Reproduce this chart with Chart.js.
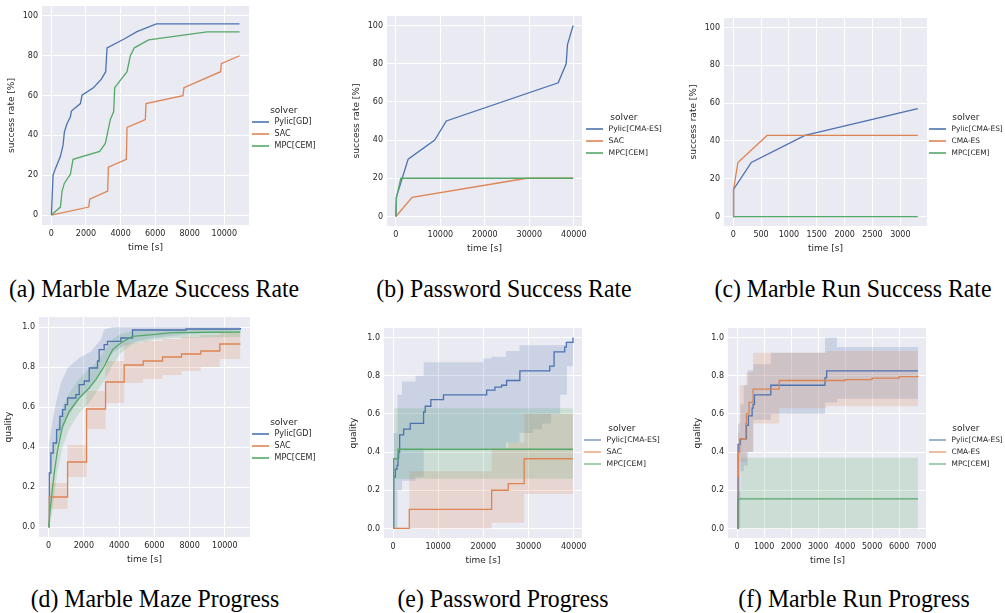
<!DOCTYPE html>
<html>
<head>
<meta charset="utf-8">
<script src="https://cdn.jsdelivr.net/npm/chart.js@4.4.1/dist/chart.umd.min.js"></script>
<style>
body { margin:0; background:#fff; width:1005px; height:613px; overflow:hidden; position:relative; }
canvas { position:absolute; }
.legend { position:absolute; font-family:"DejaVu Sans"; color:#262626; }
.legend .ttl { font-size:9px; line-height:12px; height:12px; text-align:center; }
.legend .row { position:relative; line-height:12px; height:12px; white-space:nowrap; padding-left:22.5px; }
.legend .ln { position:absolute; left:0; top:5px; width:16.5px; height:2px; }
.cap { position:absolute; font-family:"Liberation Serif"; font-size:25px; line-height:25px; color:#000; white-space:nowrap; transform:translateX(-50%) scaleX(0.95); }
</style>
</head>
<body>
<canvas id="ca"></canvas>
<canvas id="cb"></canvas>
<canvas id="cc"></canvas>
<canvas id="cd"></canvas>
<canvas id="ce"></canvas>
<canvas id="cf"></canvas>
<script>
// tick values / labels
const rateTicks = [0, 20, 40, 60, 80, 100];
const rateLabels = ['0', '20', '40', '60', '80', '100'];
const qualTicks = [0, 0.2, 0.4, 0.6, 0.8, 1.0];
const qualLabels = ['0.0', '0.2', '0.4', '0.6', '0.8', '1.0'];
const mazeTicks = [0, 2000, 4000, 6000, 8000, 10000];
const passTicks = [0, 10000, 20000, 30000, 40000];
const runTicksC = [0, 500, 1000, 1500, 2000, 2500, 3000];
const runTicksF = [0, 1000, 2000, 3000, 4000, 5000, 6000, 7000];

// (a) Marble Maze success rate
const aPylicX = [0, 96, 231, 520, 674, 751, 905, 1098, 1156, 1676, 1772, 2447, 2890, 3141, 3218, 4181, 4952, 6069, 10886];
const aPylicY = [0, 20, 23.3, 29.5, 35.1, 41.8, 46, 49.3, 52.2, 56, 60.2, 64.1, 68.3, 72, 84, 88.3, 92.1, 96, 96];
const aSacX = [0, 2158, 2216, 3256, 3295, 4335, 4374, 5433, 5472, 7611, 7669, 9788, 9827, 10886];
const aSacY = [0, 4, 8, 12, 24, 28, 44, 48, 56, 60, 64, 72, 76, 80];
const aMpcX = [0, 520, 617, 751, 1098, 1252, 2794, 3121, 3410, 3603, 3661, 4374, 4566, 4798, 5626, 8998, 10886];
const aMpcY = [0, 4, 12, 16, 20.5, 28, 32, 36, 48, 52, 64, 72, 80, 84, 88, 92, 92];

// (b) Password success rate
const bPylicX = [0, 100, 2761, 8731, 11343, 36493, 38284, 38582, 39851];
const bPylicY = [0, 10, 30, 40, 50, 70, 80, 90, 100];
const bSacX = [0, 3657, 29403, 39851];
const bSacY = [0, 10, 20, 20];
const bMpcX = [0, 150, 1119, 39851];
const bMpcY = [0, 10, 20, 20];

// (c) Marble Run success rate
const cPylicX = [0, 6, 325, 1287, 3313];
const cPylicY = [0, 14.3, 28.6, 42.9, 57.1];
const cCmaX = [0, 6, 84, 607, 3313];
const cCmaY = [0, 14.3, 28.6, 42.9, 42.9];
const cMpcX = [0, 3313];
const cMpcY = [0, 0];

// (d) Marble Maze progress
const dPylicX = [0, 40, 130, 262, 453, 640, 794, 944, 1077, 1549, 1737, 2022, 2305, 2778, 2871, 3155, 3345, 4100, 4763, 7800, 10886];
const dPylicY = [0, 0.27, 0.37, 0.42, 0.487, 0.553, 0.587, 0.612, 0.645, 0.662, 0.712, 0.73, 0.795, 0.83, 0.887, 0.912, 0.928, 0.945, 0.985, 0.99, 0.995];
const dPylicBandX = [0, 40, 226, 414, 697, 1077, 1737, 2400, 2967, 3155, 3630, 4197, 4952, 5900, 8000, 10886];
const dPylicLo = [0, 0.187, 0.32, 0.40, 0.47, 0.55, 0.637, 0.70, 0.78, 0.82, 0.87, 0.903, 0.928, 0.945, 0.965, 0.985];
const dPylicHi = [0, 0.42, 0.53, 0.62, 0.72, 0.795, 0.845, 0.878, 0.937, 0.987, 1.0, 1.0, 1.0, 1.0, 1.0, 1.0];
const dSacX = [0, 40, 1078, 2155, 3233, 4291, 5369, 6465, 7543, 8639, 9716, 10886];
const dSacY = [0, 0.15, 0.325, 0.59, 0.725, 0.81, 0.83, 0.85, 0.865, 0.88, 0.915, 0.915];
const dSacLo = [0, 0.09, 0.25, 0.49, 0.62, 0.72, 0.74, 0.76, 0.78, 0.80, 0.84, 0.84];
const dSacHi = [0, 0.22, 0.41, 0.68, 0.83, 0.92, 0.93, 0.94, 0.95, 0.96, 0.97, 0.97];
const dMpcX = [0, 130, 319, 510, 794, 1170, 1737, 2305, 2684, 3155, 3630, 4100, 4763, 5900, 7000, 10886];
const dMpcY = [0, 0.12, 0.27, 0.387, 0.503, 0.578, 0.645, 0.695, 0.737, 0.803, 0.887, 0.92, 0.953, 0.962, 0.972, 0.975];
const dMpcLo = [0, 0.03, 0.15, 0.28, 0.40, 0.49, 0.57, 0.62, 0.67, 0.73, 0.81, 0.87, 0.915, 0.935, 0.945, 0.95];
const dMpcHi = [0, 0.24, 0.40, 0.50, 0.60, 0.67, 0.74, 0.79, 0.82, 0.88, 0.94, 0.965, 0.98, 0.99, 0.99, 0.99];

// (e) Password progress
const ePylicX = [0, 150, 515, 882, 1103, 1250, 1471, 2353, 3824, 6765, 7132, 8382, 11176, 20735, 22574, 24044, 25147, 28088, 34706, 35662, 38015, 38382, 39851];
const ePylicY = [0, 0.27, 0.31, 0.33, 0.37, 0.40, 0.49, 0.52, 0.55, 0.61, 0.64, 0.675, 0.70, 0.725, 0.74, 0.75, 0.775, 0.825, 0.85, 0.925, 0.95, 0.975, 1.0];
const ePylicBandX = [0, 150, 1000, 2000, 5000, 6800, 15000, 20000, 21800, 25000, 28000, 31000, 33000, 35000, 37000, 38500, 39851];
const ePylicLo = [0, 0, 0.2, 0.25, 0.27, 0.42, 0.42, 0.42, 0.42, 0.45, 0.5, 0.52, 0.55, 0.6, 0.7, 0.85, 1.0];
const ePylicHi = [0, 0.5, 0.7, 0.77, 0.80, 0.87, 0.87, 0.89, 0.9, 0.93, 0.96, 0.96, 0.96, 0.96, 0.96, 0.98, 1.0];
const eSacX = [0, 3600, 21838, 25515, 29044, 39851];
const eSacY = [0, 0.10, 0.20, 0.235, 0.365, 0.365];
const eSacLo = [0, 0, 0.03, 0.03, 0.18, 0.18];
const eSacHi = [0, 0.30, 0.42, 0.45, 0.60, 0.58];
const eMpcX = [0, 150, 1100, 39851];
const eMpcY = [0, 0.365, 0.415, 0.415];
const eMpcBandX = [0, 150, 300, 39851];
const eMpcLo = [0, 0, 0.26, 0.26];
const eMpcHi = [0, 0.5, 0.63, 0.63];

// (f) Marble Run progress
const fPylicX = [0, 37, 124, 347, 421, 557, 594, 644, 1250, 3255, 3317, 6696];
const fPylicY = [0, 0.44, 0.47, 0.54, 0.59, 0.63, 0.65, 0.70, 0.75, 0.79, 0.825, 0.825];
const fPylicBandX = [0, 37, 124, 250, 400, 600, 1250, 3255, 3550, 3700, 6696];
const fPylicLo = [0, 0, 0.3, 0.33, 0.40, 0.57, 0.60, 0.66, 0.66, 0.68, 0.68];
const fPylicHi = [0, 0.55, 0.65, 0.75, 0.83, 0.86, 0.92, 1.0, 1.0, 0.95, 0.95];
const fCmaX = [0, 25, 50, 99, 322, 347, 446, 594, 1559, 3317, 4000, 5000, 6000, 6696];
const fCmaY = [0, 0.27, 0.40, 0.47, 0.55, 0.60, 0.66, 0.73, 0.775, 0.775, 0.78, 0.787, 0.795, 0.80];
const fCmaBandX = [0, 25, 99, 347, 594, 1559, 3317, 6696];
const fCmaLo = [0, 0, 0.35, 0.40, 0.55, 0.63, 0.64, 0.66];
const fCmaHi = [0, 0.5, 0.75, 0.82, 0.92, 0.92, 0.93, 0.945];
const fMpcX = [0, 25, 6696];
const fMpcY = [0, 0.155, 0.155];
const fMpcBandX = [0, 25, 150, 6696];
const fMpcLo = [0, 0, 0, 0];
const fMpcHi = [0, 0.2, 0.37, 0.37];

const COL = { blue: '#4C72B0', orange: '#DD8452', green: '#55A868' };
const BAND = { blue: 'rgba(76,114,176,0.2)', orange: 'rgba(221,132,82,0.2)', green: 'rgba(85,168,104,0.2)' };
const YW = 40, XH = 32, PT = 8, PR = 12;
const TXT = '#262626';

const bgPlugin = {
  id: 'bg',
  beforeDraw(chart) {
    const a = chart.chartArea, c = chart.ctx;
    c.save();
    c.fillStyle = '#EAEAF2';
    c.fillRect(a.left, a.top, a.right - a.left, a.bottom - a.top);
    c.restore();
  }
};

function pts(xs, ys) { return xs.map((x, i) => ({ x: x, y: ys[i] })); }

function lineDs(xs, ys, col, stepped) {
  return { data: pts(xs, ys), borderColor: COL[col], borderWidth: 1.3, pointRadius: 0,
           fill: false, stepped: stepped, tension: 0 };
}
function bandDs(xs, lo, hi, col, stepped) {
  return [
    { data: pts(xs, hi), borderColor: 'rgba(0,0,0,0)', borderWidth: 0, pointRadius: 0,
      backgroundColor: BAND[col], fill: '+1', stepped: stepped, tension: 0 },
    { data: pts(xs, lo), borderColor: 'rgba(0,0,0,0)', borderWidth: 0, pointRadius: 0,
      fill: false, stepped: stepped, tension: 0 }
  ];
}

function axis(min, max, ticks, labels, title, horiz) {
  return {
    type: 'linear', min: min, max: max,
    afterBuildTicks: s => { s.ticks = ticks.map(v => ({ value: v })); },
    afterFit: s => {
      if (horiz) { s.height = XH; s.paddingLeft = 0; s.paddingRight = 0; }
      else { s.width = YW; s.paddingTop = 0; s.paddingBottom = 0; }
    },
    ticks: { callback: (v, i) => labels ? labels[i] : String(v),
             font: { family: 'DejaVu Sans', size: 8 }, color: TXT, padding: 4,
             maxRotation: 0, autoSkip: false },
    grid: { color: '#ffffff', lineWidth: 1, drawTicks: false },
    border: { display: false },
    title: { display: true, text: title, font: { family: 'DejaVu Sans', size: 9 }, color: TXT,
             padding: { top: 4, bottom: 4 } }
  };
}

function makeChart(id, box, xMax, xTicks, yMin, yMax, yTicks, yLabels, yTitle, datasets) {
  const cv = document.getElementById(id);
  const [l, r, t, b] = box;
  cv.width = r - l + YW + PR;
  cv.height = b - t + PT + XH;
  cv.style.left = (l - YW) + 'px';
  cv.style.top = (t - PT) + 'px';
  new Chart(cv.getContext('2d'), {
    type: 'line',
    data: { datasets: datasets },
    options: {
      responsive: false, animation: false, devicePixelRatio: 1,
      layout: { padding: { left: 0, right: PR, top: PT, bottom: 0 } },
      plugins: { legend: { display: false }, tooltip: { enabled: false } },
      scales: {
        x: axis(-0.05 * xMax, 1.05 * xMax, xTicks, null, 'time [s]', true),
        y: axis(yMin, yMax, yTicks, yLabels, yTitle, false)
      }
    },
    plugins: [bgPlugin]
  });
}

makeChart('ca', [42, 249, 6, 225], 10886, mazeTicks, -5, 105, rateTicks, rateLabels, 'success rate [%]', [
  lineDs(aMpcX, aMpcY, 'green', false),
  lineDs(aSacX, aSacY, 'orange', false),
  lineDs(aPylicX, aPylicY, 'blue', false)
]);
makeChart('cb', [387, 582, 16, 226], 39851, passTicks, -5, 105, rateTicks, rateLabels, 'success rate [%]', [
  lineDs(bMpcX, bMpcY, 'green', false),
  lineDs(bSacX, bSacY, 'orange', false),
  lineDs(bPylicX, bPylicY, 'blue', false)
]);
makeChart('cc', [724, 927, 18, 226], 3313, runTicksC, -5, 105, rateTicks, rateLabels, 'success rate [%]', [
  lineDs(cMpcX, cMpcY, 'green', false),
  lineDs(cCmaX, cCmaY, 'orange', false),
  lineDs(cPylicX, cPylicY, 'blue', false)
]);
makeChart('cd', [39, 250, 317, 537], 10886, mazeTicks, -0.05, 1.05, qualTicks, qualLabels, 'quality', [
  lineDs(dMpcX, dMpcY, 'green', false),
  lineDs(dSacX, dSacY, 'orange', true),
  lineDs(dPylicX, dPylicY, 'blue', true),
  ...bandDs(dMpcX, dMpcLo, dMpcHi, 'green', false),
  ...bandDs(dSacX, dSacLo, dSacHi, 'orange', true),
  ...bandDs(dPylicBandX, dPylicLo, dPylicHi, 'blue', false)
]);
makeChart('ce', [384, 582, 328, 538], 39851, passTicks, -0.05, 1.05, qualTicks, qualLabels, 'quality', [
  lineDs(eMpcX, eMpcY, 'green', true),
  lineDs(eSacX, eSacY, 'orange', true),
  lineDs(ePylicX, ePylicY, 'blue', true),
  ...bandDs(eMpcBandX, eMpcLo, eMpcHi, 'green', true),
  ...bandDs(eSacX, eSacLo, eSacHi, 'orange', true),
  ...bandDs(ePylicBandX, ePylicLo, ePylicHi, 'blue', true)
]);
makeChart('cf', [728, 927, 328, 538], 6696, runTicksF, -0.05, 1.05, qualTicks, qualLabels, 'quality', [
  lineDs(fMpcX, fMpcY, 'green', true),
  lineDs(fCmaX, fCmaY, 'orange', true),
  lineDs(fPylicX, fPylicY, 'blue', true),
  ...bandDs(fMpcBandX, fMpcLo, fMpcHi, 'green', true),
  ...bandDs(fCmaBandX, fCmaLo, fCmaHi, 'orange', true),
  ...bandDs(fPylicBandX, fPylicLo, fPylicHi, 'blue', true)
]);

// legends (seaborn style, outside the axes)
function legend(left, titleY, names, fontPx, alpha) {
  const d = document.createElement('div');
  d.className = 'legend';
  d.style.left = left + 'px';
  d.style.top = Math.round(titleY - 6) + 'px';
  let h = '<div class="ttl">solver</div>';
  ['blue', 'orange', 'green'].forEach((c, i) => {
    h += '<div class="row" style="font-size:' + fontPx + 'px"><span class="ln" style="background:' + COL[c] +
         ';opacity:' + alpha + '"></span>' + names[i] + '</div>';
  });
  d.innerHTML = h;
  document.body.appendChild(d);
}
legend(252, 110, ['Pylic[GD]', 'SAC', 'MPC[CEM]'], 8, 0.8);
legend(586, 116.7, ['Pylic[CMA-ES]', 'SAC', 'MPC[CEM]'], 7.7, 0.8);
legend(929, 116.7, ['Pylic[CMA-ES]', 'CMA-ES', 'MPC[CEM]'], 7.4, 0.8);
legend(252, 421.7, ['Pylic[GD]', 'SAC', 'MPC[CEM]'], 8, 0.8);
legend(584, 428.3, ['Pylic[CMA-ES]', 'SAC', 'MPC[CEM]'], 7.7, 0.55);
legend(929, 428.3, ['Pylic[CMA-ES]', 'CMA-ES', 'MPC[CEM]'], 7.4, 0.55);

// sub-figure captions
const captions = [
  ['(a) Marble Maze Success Rate', 154, 288],
  ['(b) Password Success Rate', 504, 288],
  ['(c) Marble Run Success Rate', 853, 288],
  ['(d) Marble Maze Progress', 155, 598],
  ['(e) Password Progress', 503, 598],
  ['(f) Marble Run Progress', 854, 598]
];
captions.forEach(c => {
  const d = document.createElement('div');
  d.className = 'cap';
  d.textContent = c[0];
  d.style.left = c[1] + 'px';
  d.style.top = (c[2] - 12.5) + 'px';
  document.body.appendChild(d);
});
</script>
</body>
</html>
